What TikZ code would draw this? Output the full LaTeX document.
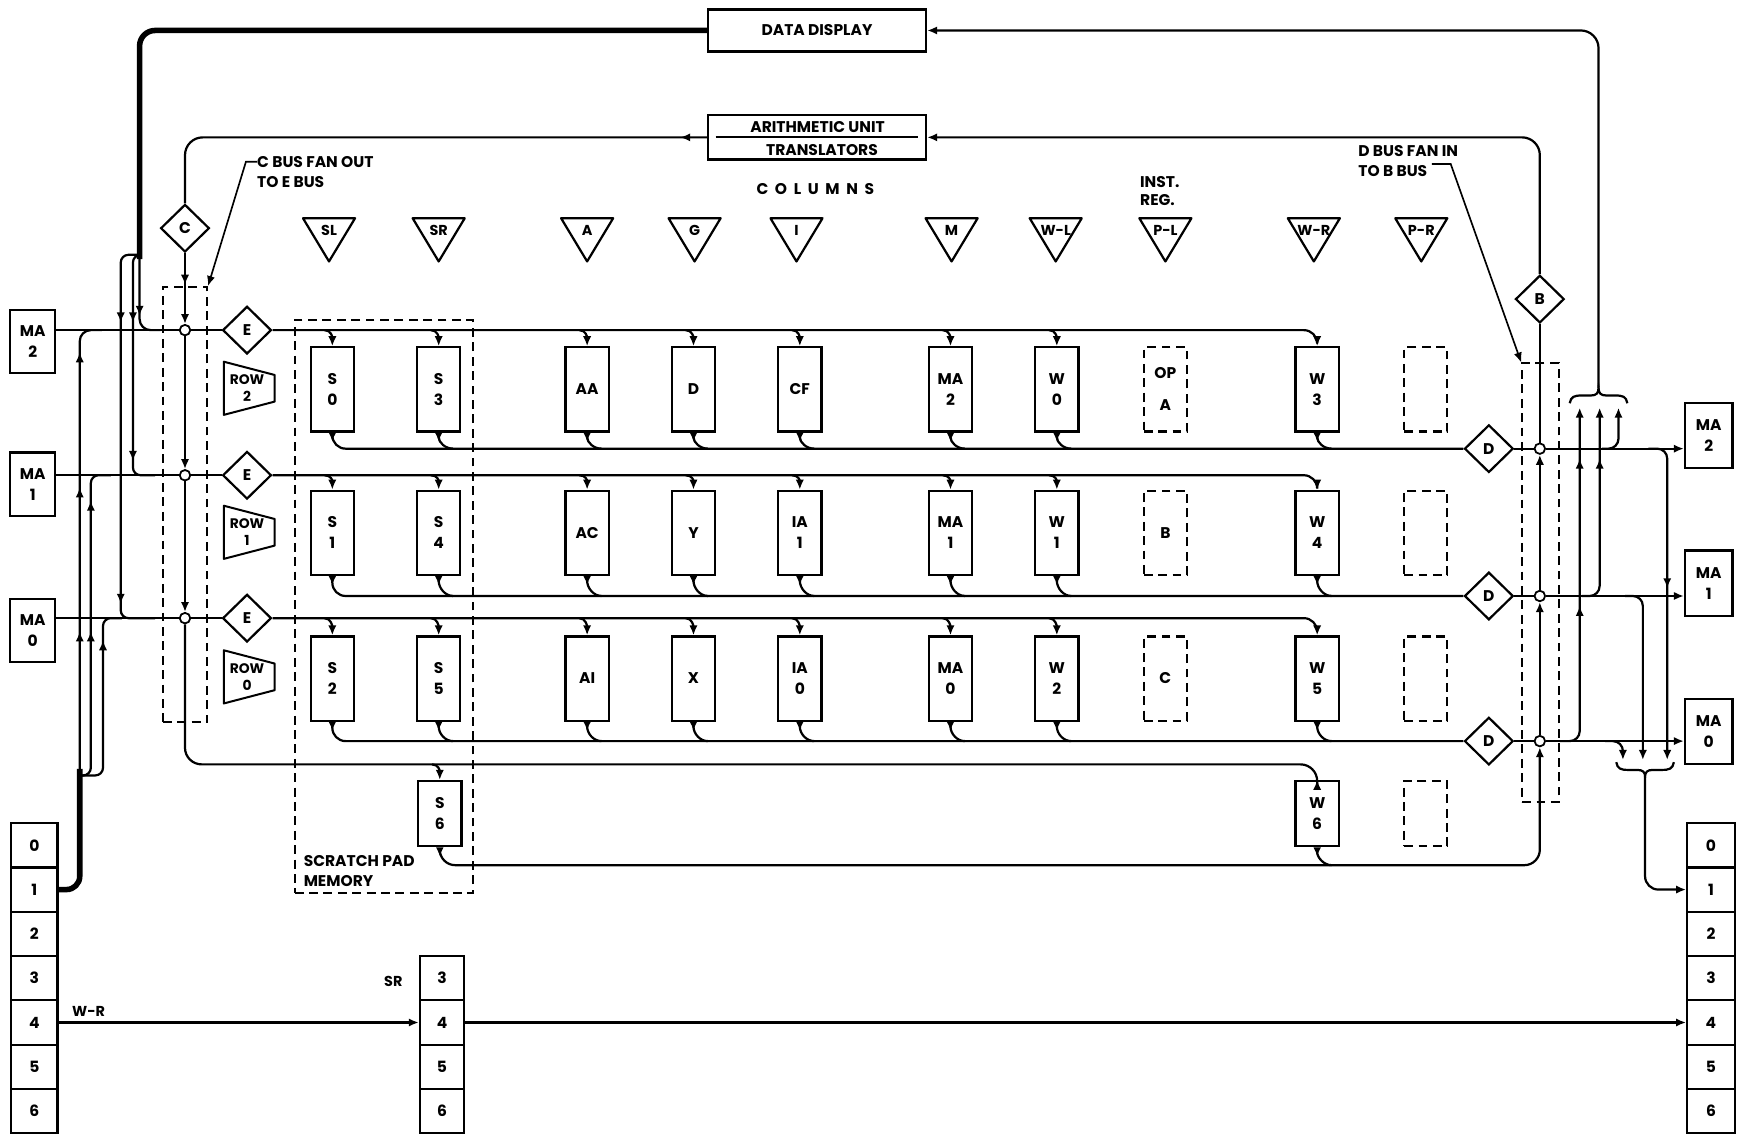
\documentclass[tikz,border=0pt]{standalone}
\usepackage{fontspec}
\setmainfont{Poppins}
\usetikzlibrary{arrows.meta,shapes.geometric,calc}
\newcommand\TipDn[2]{\draw[bus,tipst] (#1,#2-9) -- (#1,#2);}
\newcommand\TipUp[2]{\draw[bus,tipst] (#1,#2+9) -- (#1,#2);}
\newcommand\TipLt[2]{\draw[bus,tipst] (#1+9,#2) -- (#1,#2);}
\begin{document}
\begin{tikzpicture}[x=1pt,y=-1pt,
  font=\bfseries\fontsize{14}{19}\selectfont,
  bus/.style={line width=2pt},
  fat/.style={line width=5pt},
  tipst/.style={-{Latex[length=9pt,width=7.5pt]}},
  revtip/.style={{Latex[length=8pt,width=7pt,reversed]}-},
  bothtip/.style={{Latex[length=8pt,width=7pt,reversed]}-{Latex[length=9pt,width=7.5pt]}},
  reg/.style={draw, line width=2pt, minimum width=39pt, minimum height=76pt, inner sep=0pt, align=center},
  dreg/.style={reg, dash pattern=on 8pt off 5pt},
  dia/.style={diamond, draw, line width=2pt, minimum width=44pt, minimum height=43pt, inner sep=0pt},
  box/.style={draw, line width=2pt, inner sep=0pt, align=center},
  junc/.style={circle, draw, line width=1.6pt, fill=white, inner sep=0pt, minimum size=9.5pt},
  fan/.style={draw, line width=1.6pt, dash pattern=on 8pt off 5pt, inner sep=0pt},
  cell/.style={draw, line width=2pt, minimum width=42pt, minimum height=40pt, inner sep=0pt},
  lbl/.style={inner sep=0pt, anchor=west},
  small/.style={font=\bfseries\fontsize{12.5}{15}\selectfont},
  tlab/.style={font=\bfseries\fontsize{13}{15}\selectfont}
]
\useasboundingbox (0,0) rectangle (1568,1023);

% ---------- dashed groups ----------
\node[fan, minimum width=40pt, minimum height=393pt] (cfan) at (167,455.5) {};
\node[fan, minimum width=33pt, minimum height=396pt] (dfan) at (1390.5,526) {};
\node[fan, minimum width=161pt, minimum height=517pt] (spad) at (346.5,547.5) {};
\node[lbl] (spl1) at (274,777) {SCRATCH PAD};
\node[lbl] (spl2) at (274,795) {MEMORY};

% ---------- top boxes ----------
\node[box, minimum width=197pt, minimum height=38pt] (dd) at (737.5,27.5) {DATA DISPLAY};
\node[box, minimum width=197pt, minimum height=40pt] (au) at (737.5,124) {};
\node[inner sep=0pt] (aut1) at (738,115) {ARITHMETIC UNIT};
\node[inner sep=0pt] (aut2) at (742,135) {TRANSLATORS};
\draw[bus] ($(au.west)+(8,0)$) -- ($(au.east)+(-8,0)$);

\node (cols) at (736,171) {C\kern6pt O\kern6pt L\kern6pt U\kern6pt M\kern6pt N\kern6pt S};
\node[lbl] (inst) at (1029,164) {INST.};
\node[lbl] (instreg) at (1029,181) {REG.};

% ---------- column triangles ----------
\foreach \x/\lab/\nm in {297/SL/tsl, 396/SR/tsr, 530/A/ta, 627/G/tg, 719/I/ti, 859/M/tm, 953/W-L/twl, 1052/P-L/tpl, 1186/W-R/twr, 1283/P-R/tpr}{
  \draw[line width=2pt, line join=round] (\x-23.5,197) -- (\x+23.5,197) -- (\x,236) -- cycle;
  \node[tlab, inner sep=0pt] (\nm) at (\x,208) {\lab};
}

% ---------- labels with leaders ----------
\node[lbl] (ct1) at (232,146) {C BUS FAN OUT};
\node[lbl] (ct2) at (232,164) {TO E BUS};
\draw[line width=1.5pt, tipst] (ct1.west) -- ++(-10,0) -- (cfan.north east);
\node[lbl] (dt1) at (1226,136) {D BUS FAN IN};
\node[lbl] (dt2) at (1226,154) {TO B BUS};
\draw[line width=1.5pt, tipst] ($(dt2.east)+(4,-6)$) -- ++(17,0) -- (dfan.north west);

% ---------- diamonds and junctions ----------
\node[dia] (cd) at (167,206) {C};
\node[dia] (bd) at (1390,270) {B};
\node[dia] (e2) at (223,298) {E};
\node[dia] (e1) at (223,429) {E};
\node[dia] (e0) at (223,558) {E};
\node[dia] (dd2) at (1344,405) {D};
\node[dia] (dd1) at (1344,538) {D};
\node[dia] (dd0) at (1344,669) {D};
\node[junc] (jl2) at (167,298) {};
\node[junc] (jl1) at (167,429) {};
\node[junc] (jl0) at (167,558) {};
\node[junc] (jr2) at (1390,405) {};
\node[junc] (jr1) at (1390,538) {};
\node[junc] (jr0) at (1390,669) {};
\coordinate (c3) at (0,690);
\coordinate (c4) at (0,781);

% ---------- ROW trapezoids ----------
\foreach \nm/\lab/\cy in {row2/2/350.5, row1/1/480.5, row0/0/611}{
  \draw[line width=1.8pt, line join=round] (202,\cy-24) -- (248,\cy-12) -- (248,\cy+12) -- (202,\cy+24) -- cycle;
  \node[small, align=center, inner sep=0pt] (\nm) at (223,\cy) {ROW\\\lab};
}

% ---------- MA boxes ----------
\node[box, minimum width=41pt, minimum height=57pt] (mal2) at (29.5,308.5) {MA\\2};
\node[box, minimum width=41pt, minimum height=57pt] (mal1) at (29.5,437) {MA\\1};
\node[box, minimum width=41pt, minimum height=57pt] (mal0) at (29.5,569) {MA\\0};
\node[box, minimum width=43pt, minimum height=59pt] (mar2) at (1542.5,393) {MA\\2};
\node[box, minimum width=43pt, minimum height=59pt] (mar1) at (1542.5,526.5) {MA\\1};
\node[box, minimum width=43pt, minimum height=59pt] (mar0) at (1542.5,660.5) {MA\\0};

% ---------- stacks ----------
\foreach \i in {0,...,6} \node[cell] (ls\i) at (31,763+40*\i) {\i};
\foreach \i in {3,...,6} \node[cell, minimum width=40pt] (ms\i) at (399,763+40*\i) {\i};
\foreach \i in {0,...,6} \node[cell, minimum width=43pt] (rs\i) at (1544.5,763+40*\i) {\i};
\node[lbl, tlab] (wrl) at (65,913) {W-R};
\node[tlab] (srl) at (355,886) {SR};

% ---------- registers ----------
\node[reg] (s0) at (300,351.5) {S\\0};
\node[reg] (s3) at (396,351.5) {S\\3};
\node[reg] (aa) at (530,351.5) {AA};
\node[reg] (dr) at (626,351.5) {D};
\node[reg] (cf) at (722,351.5) {CF};
\node[reg] (ma2) at (858,351.5) {MA\\2};
\node[reg] (w0) at (954,351.5) {W\\0};
\node[dreg] (opa) at (1052,351.5) {OP\\[10pt]A};
\node[reg] (w3) at (1189,351.5) {W\\3};
\node[dreg] (pr2) at (1287,351.5) {};

\node[reg] (s1) at (300,481) {S\\1};
\node[reg] (s4) at (396,481) {S\\4};
\node[reg] (ac) at (530,481) {AC};
\node[reg] (yr) at (626,481) {Y};
\node[reg] (ia1) at (722,481) {IA\\1};
\node[reg] (ma1) at (858,481) {MA\\1};
\node[reg] (w1) at (954,481) {W\\1};
\node[dreg] (brg) at (1052,481) {B};
\node[reg] (w4) at (1189,481) {W\\4};
\node[dreg] (pr1) at (1287,481) {};

\node[reg] (s2) at (300,612.5) {S\\2};
\node[reg] (s5) at (396,612.5) {S\\5};
\node[reg] (ai) at (530,612.5) {AI};
\node[reg] (xr) at (626,612.5) {X};
\node[reg] (ia0) at (722,612.5) {IA\\0};
\node[reg] (ma0) at (858,612.5) {MA\\0};
\node[reg] (w2) at (954,612.5) {W\\2};
\node[dreg] (crg) at (1052,612.5) {C};
\node[reg] (w5) at (1189,612.5) {W\\5};
\node[dreg] (pr0) at (1287,612.5) {};

\node[reg, minimum height=59pt] (s6) at (397,734.5) {S\\6};
\node[reg, minimum height=59pt] (w6) at (1189,734.5) {W\\6};
\node[dreg, minimum height=59pt] (pr3) at (1287,734.5) {};

% ---------- thick feed from DATA DISPLAY ----------
\draw[fat, rounded corners=14pt] (dd.west) -| (126,234);
\draw[bus, rounded corners=7pt] (126,230) -| (109,420) |- (140,558);
\draw[bus, rounded corners=7pt] (126,230) -| (120,380) |- (140,429);
\draw[bus, rounded corners=10pt] (126,230) |- (145,298);
\TipDn{109}{291} \TipDn{120}{291} \TipDn{126}{285} \TipDn{120}{416} \TipDn{109}{545}

% ---------- thick feed from left stack ----------
\draw[fat, rounded corners=12pt] (ls1.east) -| (72,694);
\draw[bus, rounded corners=10pt] (72,700) |- (92,298);
\draw[bus, rounded corners=7pt] (72,700) -| (82,520) |- (100,429);
\draw[bus, rounded corners=7pt] (72,700) -| (93,620) |- (110,558);
\TipUp{72}{318} \TipUp{72}{440} \TipUp{72}{570} \TipUp{82}{452} \TipUp{82}{570} \TipUp{93}{578}

% ---------- left row lines ----------
\draw[bus] (mal2.east |- jl2.west) -- (jl2.west);
\draw[bus] (jl2.east) -- (e2.west);
\draw[bus] (mal1.east |- jl1.west) -- (jl1.west);
\draw[bus] (jl1.east) -- (e1.west);
\draw[bus] (mal0.east |- jl0.west) -- (jl0.west);
\draw[bus] (jl0.east) -- (e0.west);

% ---------- C bus ----------
\draw[bus, rounded corners=16pt] (cd.north) |- (au.west);
\TipLt{614}{124}
\draw[bus, tipst] (cd.south) -- (jl2.north);
\TipDn{167}{257}
\draw[bus, tipst] (jl2.south) -- (jl1.north);
\draw[bus, tipst] (jl1.south) -- (jl0.north);
\draw[bus, rounded corners=15pt, tipst] (jl0.south) |- (w6.north |- c3) -- (w6.north);

% ---------- E buses ----------
\draw[bus, rounded corners=12pt, tipst] (e2.east) -| (w3.north);
\draw[bus, rounded corners=12pt, tipst] (e1.east) -| (w4.north);
\draw[bus, rounded corners=12pt, tipst] (e0.east) -| (w5.north);
\foreach \r in {s0,s3,aa,dr,cf,ma2,w0}
  \draw[bus,tipst] ($(\r.north |- e2.east)+(-7,0)$) .. controls +(6,0) and +(0,-8) .. (\r.north);
\foreach \r in {s1,s4,ac,yr,ia1,ma1,w1}
  \draw[bus,tipst] ($(\r.north |- e1.east)+(-7,0)$) .. controls +(6,0) and +(0,-8) .. (\r.north);
\foreach \r in {s2,s5,ai,xr,ia0,ma0,w2}
  \draw[bus,tipst] ($(\r.north |- e0.east)+(-7,0)$) .. controls +(6,0) and +(0,-8) .. (\r.north);
\draw[bus,tipst] ($(s6.north |- c3)+(-7,0)$) .. controls +(6,0) and +(0,-8) .. (s6.north);

% ---------- D buses ----------
\draw[bus, rounded corners=12pt, revtip] (s0.south) |- (dd2.west);
\draw[bus, rounded corners=12pt, revtip] (s1.south) |- (dd1.west);
\draw[bus, rounded corners=12pt, revtip] (s2.south) |- (dd0.west);
\foreach \r in {s3,aa,dr,cf,ma2,w0,w3}
  \draw[bus,revtip] (\r.south) .. controls +(0,9) and +(-7,0) .. ($(\r.south |- dd2.west)+(13,0)$);
\foreach \r in {s4,ac,yr,ia1,ma1,w1,w4}
  \draw[bus,revtip] (\r.south) .. controls +(0,11) and +(-7,0) .. ($(\r.south |- dd1.west)+(13,0)$);
\foreach \r in {s5,ai,xr,ia0,ma0,w2,w5}
  \draw[bus,revtip] (\r.south) .. controls +(0,11) and +(-7,0) .. ($(\r.south |- dd0.west)+(13,0)$);
\draw[bus, rounded corners=14pt, bothtip] (s6.south) |- (jr0.south |- c4) -- (jr0.south);
\draw[bus,revtip] (w6.south) .. controls +(0,9) and +(-7,0) .. ($(w6.south |- c4)+(13,0)$);

% ---------- B bus ----------
\draw[bus] (bd.south) -- (jr2.north);
\draw[bus,tipst] (jr1.north) -- (jr2.south);
\draw[bus,tipst] (jr0.north) -- (jr1.south);
\draw[bus, rounded corners=16pt, tipst] (bd.north) |- (au.east);

% ---------- right row lines ----------
\draw[bus] (dd2.east) -- (jr2.west);
\draw[bus,tipst] (jr2.east) -- (mar2.west |- jr2.east);
\draw[bus] (dd1.east) -- (jr1.west);
\draw[bus,tipst] (jr1.east) -- (mar1.west |- jr1.east);
\draw[bus] (dd0.east) -- (jr0.west);
\draw[bus,tipst] (jr0.east) -- (mar0.west |- jr0.east);

% ---------- right fan to data display and stack ----------
\coordinate (br1) at (1443,350);
\coordinate (br2) at (1485,701);
\draw[bus, rounded corners=9pt, tipst] (1446,405) -| (1461,368);
\draw[bus, rounded corners=9pt, tipst] (1428,538) -| (1444,368);
\draw[bus, rounded corners=9pt, tipst] (1408,669) -| (1426,368);
\draw[bus, rounded corners=9pt, tipst] (1488,405) -| (1505,686);
\draw[bus, rounded corners=9pt, tipst] (1467,538) -| (1483,686);
\draw[bus, rounded corners=9pt, tipst] (1449,669) -| (1465,686);
\TipUp{1426}{414} \TipUp{1444}{414} \TipUp{1426}{547} \TipDn{1505}{531}
\draw[bus] (1417,364) .. controls (1418,358) and (1421,357) .. (1428,357) -- (1436,357)
  .. controls (1441,357) and (1443,355) .. (br1)
  .. controls (1443,355) and (1445,357) .. (1450,357) -- (1458,357)
  .. controls (1465,357) and (1468,358) .. (1469,364);
\draw[bus, rounded corners=16pt, tipst] (br1) |- (dd.east);
\draw[bus] (1459,688) .. controls (1460,694) and (1463,695) .. (1470,695) -- (1478,695)
  .. controls (1483,695) and (1485,697) .. (br2)
  .. controls (1485,697) and (1487,695) .. (1492,695) -- (1500,695)
  .. controls (1507,695) and (1510,694) .. (1511,688);
\draw[bus, rounded corners=12pt, tipst] (br2) |- (rs1.west);

% ---------- W-R line ----------
\draw[bus,tipst] (ls4.east) -- (ms4.west);
\draw[bus,tipst] (ms4.east) -- (rs4.west);
\end{tikzpicture}
\end{document}
